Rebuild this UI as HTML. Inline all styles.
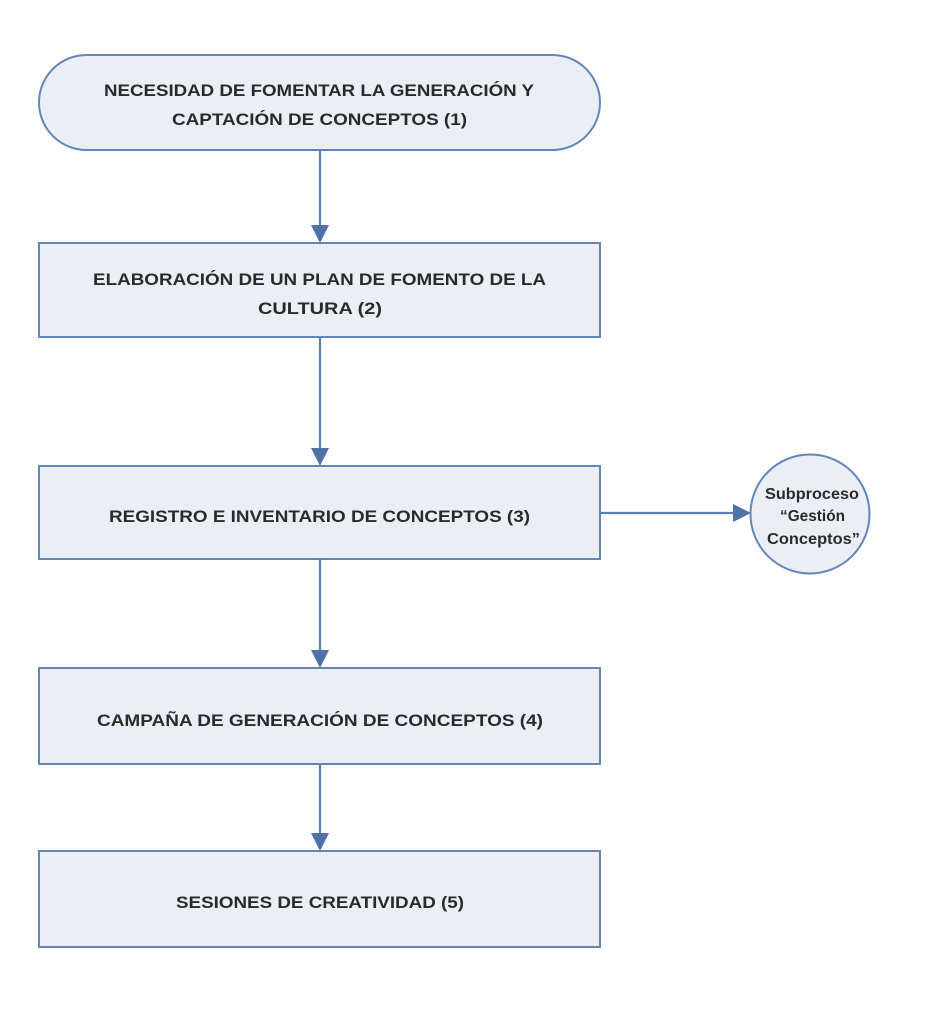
<!DOCTYPE html>
<html><head><meta charset="utf-8"><style>
html,body{margin:0;padding:0;background:#fff;}
svg{display:block;}
text{font-family:"Liberation Sans",sans-serif;font-weight:bold;fill:#2a2a2a;font-size:17px;}
</style></head><body>
<svg width="929" height="1024" viewBox="0 0 929 1024" xmlns="http://www.w3.org/2000/svg">
<g fill="#ebeff5" stroke="#6286b8" stroke-width="2">
<rect x="39" y="55" width="561" height="95" rx="47.5" ry="47.5"/>
<rect x="39" y="243" width="561" height="94"/>
<rect x="39" y="466" width="561" height="93"/>
<rect x="39" y="668" width="561" height="96"/>
<rect x="39" y="851" width="561" height="96"/>
<circle cx="810" cy="514" r="59.5"/>
</g>
<g stroke="#5b7fb0" stroke-width="2.2" fill="none">
<line x1="320" y1="150" x2="320" y2="228"/>
<line x1="320" y1="337" x2="320" y2="451"/>
<line x1="320" y1="559" x2="320" y2="653"/>
<line x1="320" y1="764" x2="320" y2="836"/>
<line x1="600" y1="513" x2="736" y2="513"/>
</g>
<g fill="#4f73a8">
<polygon points="311,225 329,225 320,243"/>
<polygon points="311,448 329,448 320,466"/>
<polygon points="311,650 329,650 320,668"/>
<polygon points="311,833 329,833 320,851"/>
<polygon points="733,504 733,522 751,513"/>
</g>
<text x="104" y="96" textLength="430" lengthAdjust="spacingAndGlyphs">NECESIDAD DE FOMENTAR LA GENERACIÓN Y</text>
<text x="172" y="125" textLength="295" lengthAdjust="spacingAndGlyphs">CAPTACIÓN DE CONCEPTOS (1)</text>
<text x="93" y="285" textLength="453" lengthAdjust="spacingAndGlyphs">ELABORACIÓN DE UN PLAN DE FOMENTO DE LA</text>
<text x="258" y="314" textLength="124" lengthAdjust="spacingAndGlyphs">CULTURA (2)</text>
<text x="109" y="522" textLength="421" lengthAdjust="spacingAndGlyphs">REGISTRO E INVENTARIO DE CONCEPTOS (3)</text>
<text x="97" y="726" textLength="446" lengthAdjust="spacingAndGlyphs">CAMPAÑA DE GENERACIÓN DE CONCEPTOS (4)</text>
<text x="176" y="908" textLength="288" lengthAdjust="spacingAndGlyphs">SESIONES DE CREATIVIDAD (5)</text>
<text x="765" y="499" textLength="94" lengthAdjust="spacingAndGlyphs" style="font-size:16px">Subproceso</text>
<text x="780" y="521" textLength="65" lengthAdjust="spacingAndGlyphs" style="font-size:16px">“Gestión</text>
<text x="767" y="544" textLength="93" lengthAdjust="spacingAndGlyphs" style="font-size:16px">Conceptos”</text>
</svg>
</body></html>
